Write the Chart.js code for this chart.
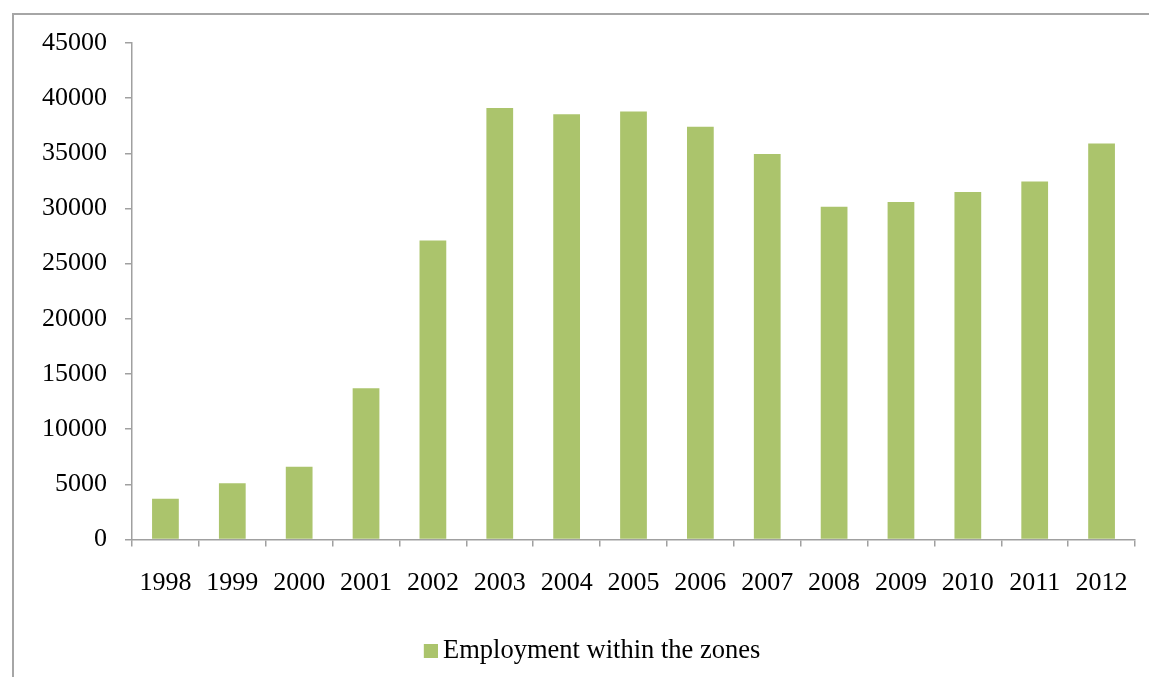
<!DOCTYPE html>
<html>
<head>
<meta charset="utf-8">
<script src="https://cdn.jsdelivr.net/npm/chart.js@4"></script>
<style>
  html, body { margin: 0; padding: 0; background: #fff; }
  #wrap { position: relative; width: 1149px; height: 677px; overflow: hidden; }
  #frame { position: absolute; left: 12px; top: 13px; width: 1200px; height: 700px;
           border-left: 2px solid #a6a6a6; border-top: 2px solid #a6a6a6; box-sizing: border-box; }
  canvas { position: absolute; left: 0; top: 0; }
</style>
</head>
<body>
<div id="wrap">
  <div id="frame"></div>
  <canvas id="c" width="1149" height="677"></canvas>
</div>
<script>
const categories = ['1998','1999','2000','2001','2002','2003','2004','2005','2006','2007','2008','2009','2010','2011','2012'];
const employment = [3700, 5100, 6600, 13700, 27100, 39100, 38550, 38800, 37400, 34950, 30150, 30600, 31500, 32450, 35900];
const seriesName = 'Employment within the zones';
const yMin = 0, yMax = 45000, yStep = 5000;

const FONT = "'Liberation Serif', 'Times New Roman', serif";
const AXIS = '#a0a0a0';
const BAR = '#abc46c';

// legend swatch: 14px square placed at the right of a small transparent canvas
const swatch = document.createElement('canvas');
swatch.width = 18; swatch.height = 14;
(function () { const g = swatch.getContext('2d'); g.fillStyle = BAR; g.fillRect(4, 0, 14, 14); })();

const legendShift = {
  id: 'legendShift',
  afterLayout(chart) {
    if (chart.legend) { chart.legend.left += 26; chart.legend.right += 26; }
  }
};

new Chart(document.getElementById('c'), {
  type: 'bar',
  data: {
    labels: categories,
    datasets: [{
      label: seriesName,
      data: employment,
      backgroundColor: BAR,
      borderWidth: 0,
      categoryPercentage: 1.0,
      barPercentage: 0.4
    }]
  },
  plugins: [legendShift],
  options: {
    responsive: false,
    animation: false,
    devicePixelRatio: 1,
    layout: { padding: { top: 43, right: 13, left: 0, bottom: 3 } },
    plugins: {
      tooltip: { enabled: false },
      legend: {
        position: 'bottom',
        labels: {
          font: { family: FONT, size: 26.5 },
          color: '#000',
          usePointStyle: true,
          pointStyle: swatch,
          pointStyleWidth: 2,
          padding: 10
        }
      }
    },
    scales: {
      x: {
        offset: true,
        grid: { offset: true, drawOnChartArea: false, drawTicks: true, tickLength: 7, color: AXIS, lineWidth: 1.5 },
        border: { color: AXIS, width: 1.5 },
        ticks: { font: { family: FONT, size: 26 }, color: '#000', padding: 21, maxRotation: 0 },
        afterFit: (s) => { s.height = 88; }
      },
      y: {
        min: yMin, max: yMax,
        grid: { drawOnChartArea: false, drawTicks: true, tickLength: 7, color: AXIS, lineWidth: 1.5 },
        border: { color: AXIS, width: 1.5 },
        ticks: { stepSize: yStep, font: { family: FONT, size: 26 }, color: '#000', padding: 18,
                 callback: (v) => String(v) },
        afterFit: (s) => { s.width = 132; }
      }
    }
  }
});
</script>
</body>
</html>
